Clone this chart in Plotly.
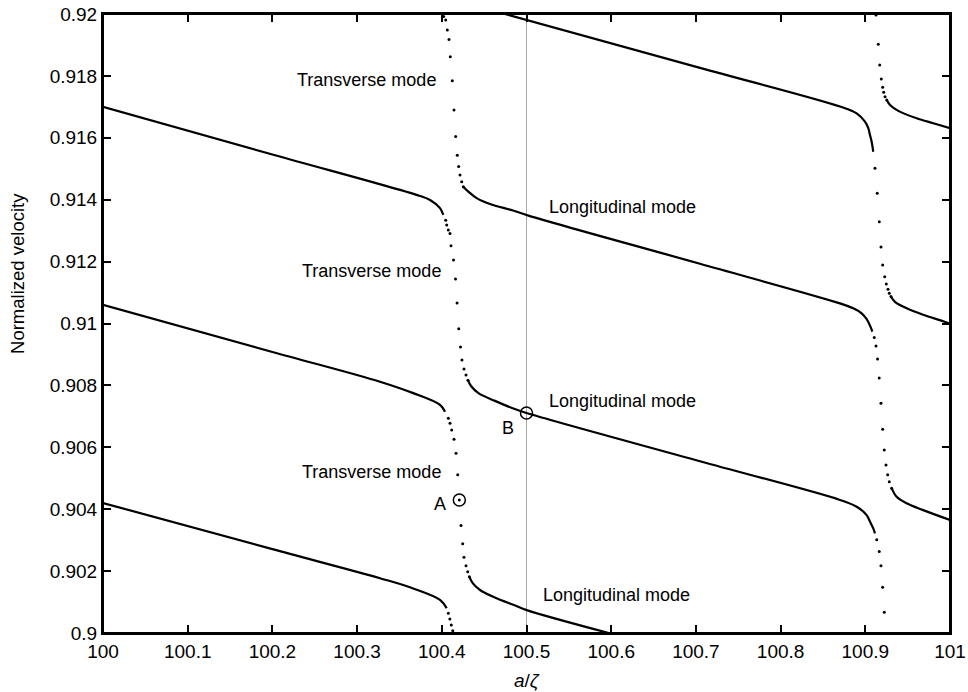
import plotly.graph_objects as go

# ---------------- tick labels ----------------
x_ticks = [100, 100.1, 100.2, 100.3, 100.4, 100.5, 100.6, 100.7, 100.8, 100.9, 101]
x_tick_labels = ["100", "100.1", "100.2", "100.3", "100.4", "100.5", "100.6", "100.7", "100.8", "100.9", "101"]
y_ticks = [0.9, 0.902, 0.904, 0.906, 0.908, 0.91, 0.912, 0.914, 0.916, 0.918, 0.92]
y_tick_labels = ["0.9", "0.902", "0.904", "0.906", "0.908", "0.91", "0.912", "0.914", "0.916", "0.918", "0.92"]

# ---------------- dense (longitudinal) parts ----------------
l1_x = [100.0, 100.2, 100.3743, 100.3861, 100.3979, 100.4018]
l1_y = [0.91700, 0.91546, 0.91412, 0.91399, 0.91373, 0.91351]
l2_x = [100.0, 100.2, 100.3270, 100.3663, 100.3979, 100.4038]
l2_y = [0.91060, 0.90908, 0.90812, 0.90775, 0.90737, 0.90715]
l3_x = [100.0, 100.2, 100.3270, 100.3663, 100.3979, 100.4058]
l3_y = [0.90420, 0.90271, 0.90177, 0.90144, 0.90107, 0.90080]

m0_x = [100.4746, 100.7048, 100.8701, 100.8898, 100.8996, 100.9035, 100.9055, 100.9075, 100.9094]
m0_y = [0.92000, 0.91826, 0.91701, 0.91679, 0.91652, 0.91631, 0.91609, 0.91587, 0.91555]
m1_x = [100.4254, 100.4313, 100.4412, 100.4569, 100.4841, 100.5041, 100.7048, 100.8701, 100.8858,
        100.8957, 100.9016, 100.9047, 100.9067, 100.9083]
m1_y = [0.91442, 0.91426, 0.91405, 0.91386, 0.91365, 0.91347, 0.91193, 0.91065, 0.91049,
        0.91033, 0.91014, 0.90998, 0.90986, 0.90974]
m2_x = [100.4309, 100.4345, 100.4433, 100.4628, 100.4829, 100.5, 100.7048, 100.8701, 100.8898,
        100.9016, 100.9055, 100.9094, 100.9114]
m2_y = [0.90817, 0.90798, 0.90775, 0.90750, 0.90727, 0.90711, 0.90555, 0.90430, 0.90408,
        0.90381, 0.90360, 0.90338, 0.90322]
m3_x = [100.4325, 100.4365, 100.4451, 100.4648, 100.4844, 100.5002, 100.597]
m3_y = [0.90182, 0.90161, 0.90139, 0.90112, 0.90091, 0.90074, 0.90000]

r0_x = [100.9253, 100.9292, 100.9390, 100.9607, 100.9803, 101.0]
r0_y = [0.91722, 0.91706, 0.91687, 0.91663, 0.91647, 0.91631]
r1_x = [100.9303, 100.9350, 100.9489, 100.9685, 100.9961, 101.0]
r1_y = [0.91087, 0.91070, 0.91049, 0.91028, 0.91003, 0.90998]
r2_x = [100.9311, 100.9370, 100.9488, 100.9684, 101.0]
r2_y = [0.90468, 0.90440, 0.90419, 0.90397, 0.90365]

# ---------------- sparse (transverse) dots ----------------
tl0_x = [100.4022, 100.4046, 100.4065, 100.4085, 100.4100, 100.4124, 100.4144, 100.4164, 100.4183,
         100.4199, 100.4215, 100.4235, 100.4254]
tl0_y = [0.91992, 0.91981, 0.91948, 0.91918, 0.91862, 0.91784, 0.91690, 0.91604, 0.91544,
         0.91507, 0.91480, 0.91458, 0.91442]
tl1_x = [100.4046, 100.4058, 100.4077, 100.4097, 100.4109, 100.4138, 100.4162, 100.4180, 100.4200,
         100.4221, 100.4238, 100.4262, 100.4286, 100.4309]
tl1_y = [0.91334, 0.91318, 0.91302, 0.91291, 0.91251, 0.91205, 0.91144, 0.91066, 0.90983,
         0.90924, 0.90882, 0.90853, 0.90834, 0.90817]
tl2_x = [100.4077, 100.4097, 100.4117, 100.4144, 100.4168, 100.4188, 100.4207, 100.4227, 100.4247,
         100.4262, 100.4286, 100.4306, 100.4325]
tl2_y = [0.90694, 0.90678, 0.90656, 0.90626, 0.90581, 0.90511, 0.90430, 0.90347, 0.90288,
         0.90245, 0.90217, 0.90198, 0.90182]
tl3_x = [100.4077, 100.4095, 100.4112, 100.4130]
tl3_y = [0.90064, 0.90045, 0.90026, 0.90007]

tr0_x = [100.9126, 100.9153, 100.9170, 100.9189, 100.9205, 100.9217, 100.9233, 100.9253]
tr0_y = [0.91997, 0.91902, 0.91835, 0.91790, 0.91763, 0.91747, 0.91733, 0.91722]
tr1_x = [100.9114, 100.9141, 100.9165, 100.9185, 100.9205, 100.9229, 100.9248, 100.9268, 100.9283, 100.9303]
tr1_y = [0.91502, 0.91421, 0.91329, 0.91247, 0.91189, 0.91151, 0.91128, 0.91111, 0.91098, 0.91087]
tr2_x = [100.9106, 100.9126, 100.9145, 100.9164, 100.9185, 100.9205, 100.9224, 100.9244, 100.9264,
         100.9283, 100.9311]
tr2_y = [0.90955, 0.90927, 0.90885, 0.90824, 0.90742, 0.90658, 0.90591, 0.90543, 0.90511,
         0.90489, 0.90468]
tr3_x = [100.9135, 100.9165, 100.9185, 100.9205, 100.9224]
tr3_y = [0.90301, 0.90263, 0.90217, 0.90148, 0.90067]

# ---------------- marked points ----------------
mark_names = ["A", "B"]
mark_x = [100.4207, 100.5]
mark_y = [0.90430, 0.90711]
mark_label_x = [100.3979, 100.4782]
mark_label_y = [0.90417, 0.90662]

# ---------------- text labels ----------------
mode_text = ["Transverse mode", "Transverse mode", "Transverse mode",
             "Longitudinal mode", "Longitudinal mode", "Longitudinal mode"]
mode_x = [100.3955, 100.4014, 100.4014, 100.5242, 100.5242, 100.5171]
mode_y = [0.91787, 0.91170, 0.90520, 0.91378, 0.90750, 0.90123]
mode_anchor = ["right", "right", "right", "left", "left", "left"]

FONT = "Liberation Sans, Arial, Helvetica, sans-serif"

fig = go.Figure()

for xs, ys in [(l1_x, l1_y), (l2_x, l2_y), (l3_x, l3_y), (m0_x, m0_y), (m1_x, m1_y),
               (m2_x, m2_y), (m3_x, m3_y), (r0_x, r0_y), (r1_x, r1_y), (r2_x, r2_y)]:
    fig.add_trace(go.Scatter(x=xs, y=ys, mode="lines", line=dict(color="black", width=2.2),
                             line_shape="spline", showlegend=False, hoverinfo="skip"))

for xs, ys in [(tl0_x, tl0_y), (tl1_x, tl1_y), (tl2_x, tl2_y), (tl3_x, tl3_y),
               (tr0_x, tr0_y), (tr1_x, tr1_y), (tr2_x, tr2_y), (tr3_x, tr3_y)]:
    fig.add_trace(go.Scatter(x=xs, y=ys, mode="markers",
                             marker=dict(color="black", size=3, line=dict(width=0)),
                             showlegend=False, hoverinfo="skip", cliponaxis=True))

fig.add_trace(go.Scatter(x=mark_x, y=mark_y, mode="markers",
                         marker=dict(symbol="circle-open", size=12, color="black",
                                     line=dict(color="black", width=1.5)),
                         showlegend=False, hoverinfo="skip"))

# invisible trace on the mirrored (top / right) axes so they are drawn
fig.add_trace(go.Scatter(x=[x_ticks[0]], y=[y_ticks[0]], xaxis="x2", yaxis="y2", mode="markers",
                         marker=dict(size=1, opacity=0), showlegend=False, hoverinfo="skip"))

fig.add_vline(x=100.5, line=dict(color="#a8a8a8", width=1), layer="below")

for name, lx, ly in zip(mark_names, mark_label_x, mark_label_y):
    fig.add_annotation(x=lx, y=ly, text=name, showarrow=False, xanchor="center", yanchor="middle",
                       font=dict(family=FONT, size=18, color="black"))

for t, tx, ty, anc in zip(mode_text, mode_x, mode_y, mode_anchor):
    fig.add_annotation(x=tx, y=ty, text=t, showarrow=False, xanchor=anc, yanchor="middle",
                       font=dict(family=FONT, size=18, color="black"))

# axis titles
fig.add_annotation(xref="paper", yref="paper", x=0.5, y=-0.076, text="<i>a</i>/<i>ζ</i>",
                   showarrow=False, xanchor="center", yanchor="middle",
                   font=dict(family=FONT, size=19, color="black"))
fig.add_annotation(xref="paper", yref="paper", x=-0.1004, y=0.5816, text="Normalized velocity",
                   showarrow=False, textangle=-90, xanchor="center", yanchor="middle",
                   font=dict(family=FONT, size=18.5, color="black"))

axis_common = dict(showline=True, linecolor="black", linewidth=2,
                   ticks="inside", ticklen=8, tickwidth=2, tickcolor="black",
                   showgrid=False, zeroline=False, automargin=False,
                   ticklabeloverflow="allow",
                   tickfont=dict(family=FONT, size=19, color="black"))

fig.update_layout(
    xaxis=dict(range=[100, 101], tickvals=x_ticks, ticktext=x_tick_labels, **axis_common),
    yaxis=dict(range=[0.9, 0.92], tickvals=y_ticks, ticktext=y_tick_labels, **axis_common),
    xaxis2=dict(range=[100, 101], tickvals=x_ticks, showticklabels=False, overlaying="x",
                side="top", anchor="y", **axis_common),
    yaxis2=dict(range=[0.9, 0.92], tickvals=y_ticks, showticklabels=False, overlaying="y",
                side="right", anchor="x", **axis_common),
)

# explicit frame around the plotting area
fig.add_shape(type="rect", xref="paper", yref="paper", x0=0, x1=1, y0=0, y1=1,
              line=dict(color="black", width=2), fillcolor="rgba(0,0,0,0)", layer="above")

fig.update_layout(width=968, height=692, margin=dict(l=103, r=18, t=14, b=59, pad=0),
                  plot_bgcolor="white", paper_bgcolor="white",
                  font=dict(family=FONT, size=18, color="black"))

# remove the default 8 px body margin so the figure fills the window exactly
fig.write_html("out.html", config={"displayModeBar": False},
               post_script="document.body.style.margin='0px';")
